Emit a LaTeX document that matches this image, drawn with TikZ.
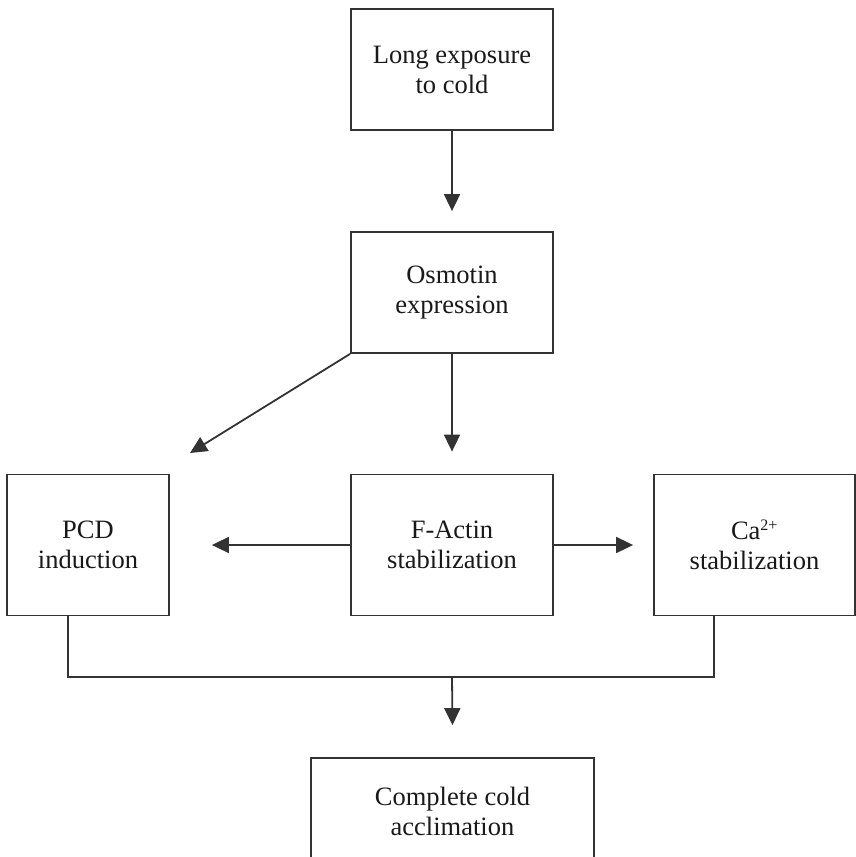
\documentclass[tikz,border=0pt]{standalone}
\usepackage{fontspec}
\setmainfont{Liberation Serif}
\usetikzlibrary{arrows.meta,calc}
\begin{document}
\begin{tikzpicture}[x=1pt,y=1pt,
  box/.style={draw=black!80,line width=1.8pt,rectangle,align=center,inner sep=0pt,
    font=\fontsize{26.5}{30}\selectfont,text=black!90},
  conn/.style={draw=black!80,line width=1.8pt},
  arr/.style={conn,-{Triangle[length=17pt,width=16pt]}}]
\clip (0,0) rectangle (856,-857);
\node[box,minimum width=202pt,minimum height=121pt] (b1) at (452,-69.5) {Long exposure\\to cold};
\node[box,minimum width=202pt,minimum height=121pt] (b2) at (452,-292.5) {Osmotin\\expression};
\node[box,minimum width=162pt,minimum height=141pt] (pcd) at (88,-545) {PCD\\induction};
\node[box,minimum width=202pt,minimum height=141pt] (fa) at (452,-545) {F-Actin\\stabilization};
\node[box,minimum width=201pt,minimum height=141pt] (ca) at (754.5,-545) {Ca\textsuperscript{\fontsize{16}{16}\selectfont 2+}\\stabilization};
\node[box,minimum width=283pt,minimum height=106pt] (comp) at (452.5,-811) {Complete cold\\acclimation};
\coordinate (tipd) at (190,-453);
\coordinate (j1) at (68,-677);
\coordinate (j2) at (714,-677);
\draw[arr,shorten >=-1pt] (b1.south) -- ($(b2.north)+(0,21)$);
\draw[arr] (b2.south) -- ($(fa.north)+(0,22)$);
\draw[arr] (b2.south west) -- (tipd);
\draw[arr] (fa.west) -- ($(pcd.east)+(42,0)$);
\draw[arr] (fa.east) -- ($(ca.west)+(-20,0)$);
\draw[conn] (pcd.south -| j1) -- (j1) -- (j2) -- (ca.south -| j2);
\draw[arr] (fa.south |- j1) -- ($(comp.north)+(0,32)$);
\end{tikzpicture}
\end{document}
